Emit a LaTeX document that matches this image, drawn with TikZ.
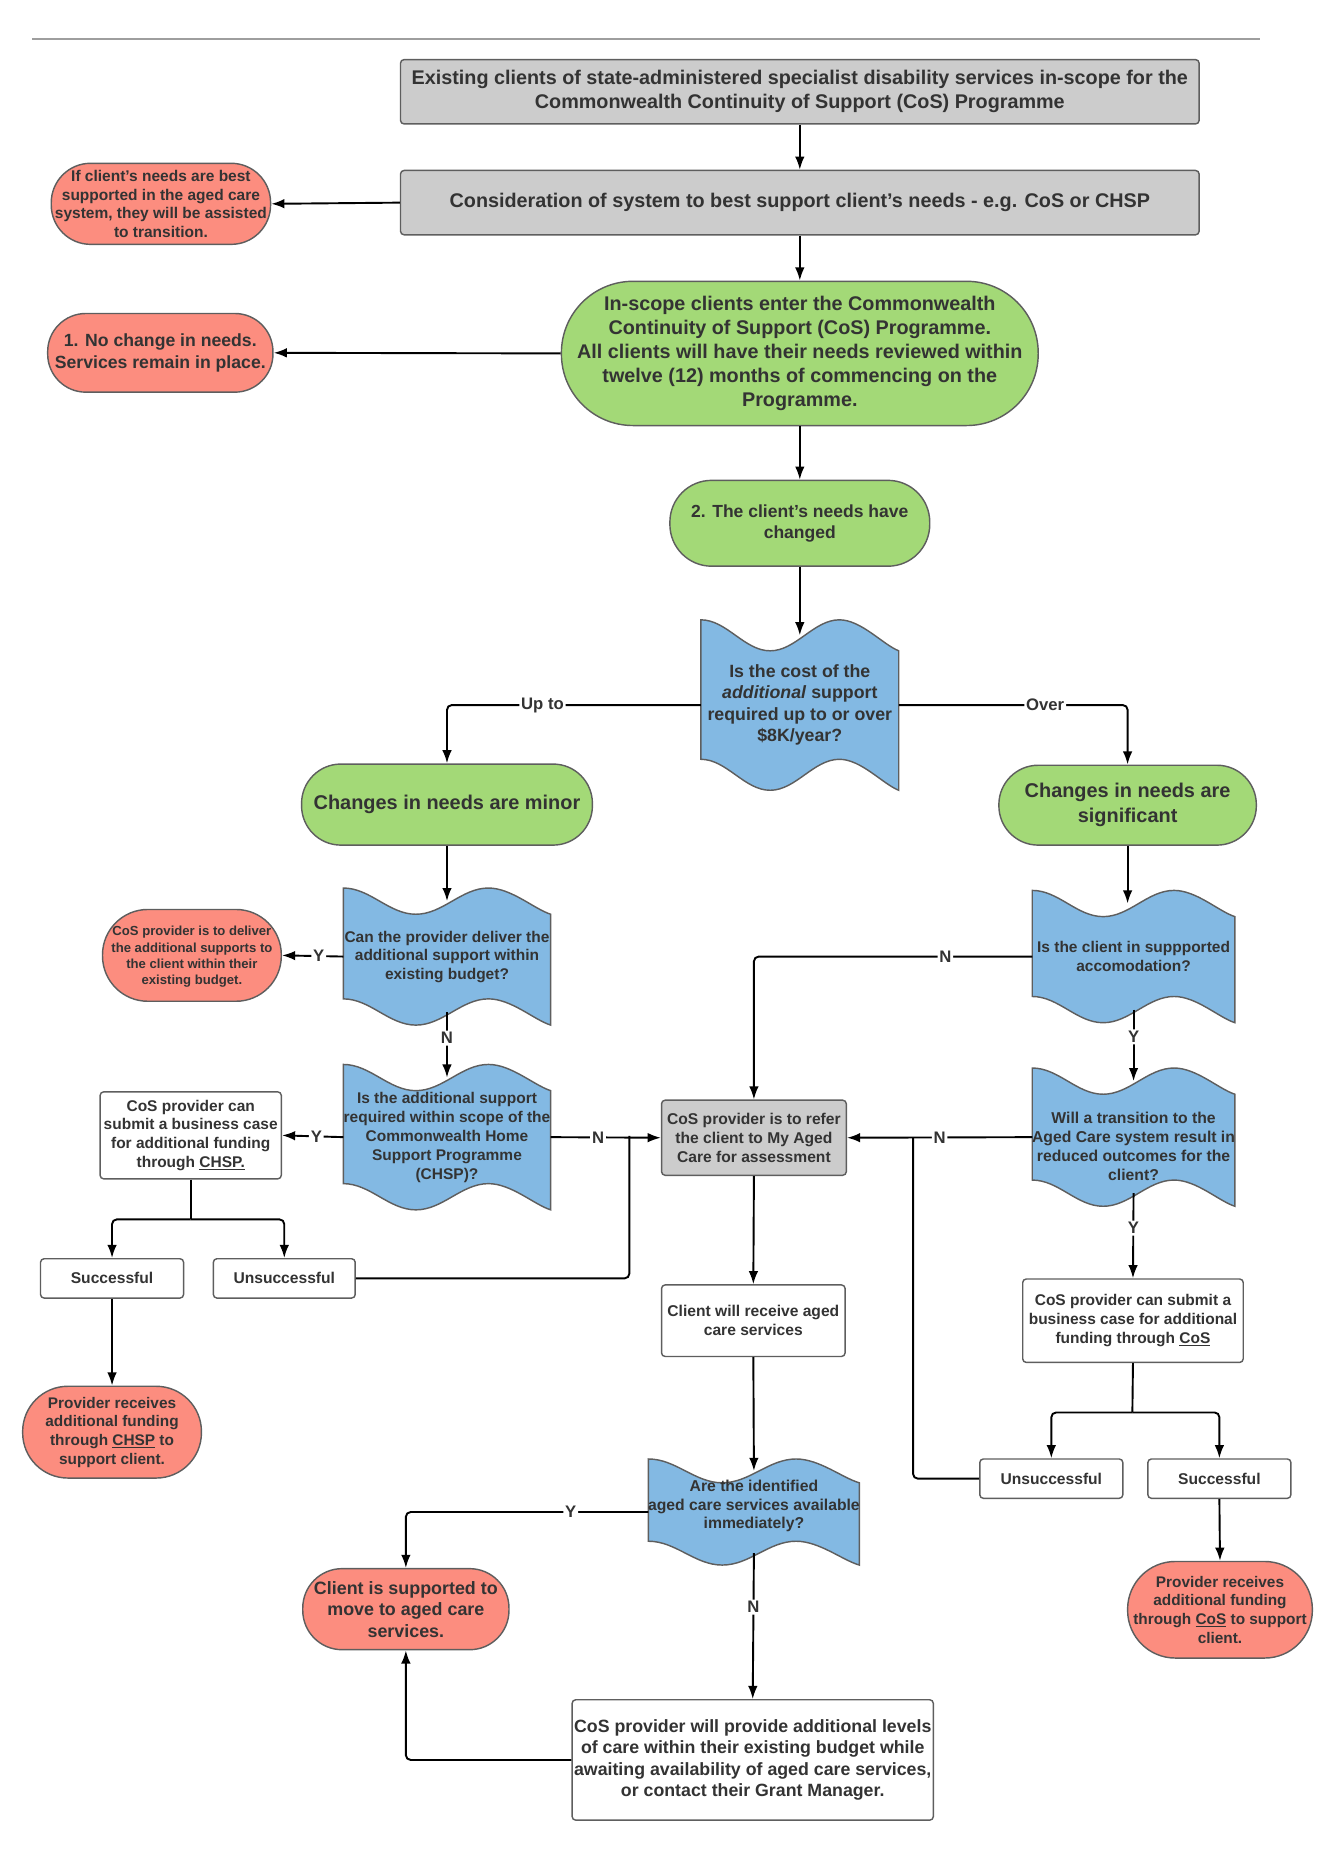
\documentclass[tikz,border=0pt]{standalone}
\usepackage{fontspec}
\setmainfont{Liberation Sans}
\usetikzlibrary{arrows.meta}
\definecolor{greyc}{HTML}{CCCCCC}
\definecolor{greenc}{HTML}{A3D977}
\definecolor{redc}{HTML}{FC8D7F}
\definecolor{bluec}{HTML}{83B9E3}
\definecolor{bordc}{HTML}{5E5E5E}
\definecolor{txtc}{HTML}{333333}
\definecolor{rulec}{HTML}{9E9E9E}
\newcommand{\fs}[2]{\fontsize{#1}{#2}\selectfont\bfseries}
% #1 L, #2 R, #3 T, #4 B, #5 wave depth, #6 name, #7 text node options, #8 text
\newcommand{\tapenode}[8]{%
  \filldraw[tapefill]
  (#1,#3) .. controls ({#1+0.13*(#2-#1)},#3) and ({#1+0.22*(#2-#1)},{#3+#5}) .. ({#1+0.35*(#2-#1)},{#3+#5})
  .. controls ({#1+0.48*(#2-#1)},{#3+#5}) and ({#1+0.57*(#2-#1)},#3) .. ({#1+0.70*(#2-#1)},#3)
  .. controls ({#1+0.81*(#2-#1)},#3) and ({#1+0.92*(#2-#1)},{#3+0.8*#5}) .. (#2,{#3+#5})
  -- (#2,#4)
  .. controls ({#1+0.92*(#2-#1)},{#4-0.2*#5}) and ({#1+0.81*(#2-#1)},{#4-#5}) .. ({#1+0.70*(#2-#1)},{#4-#5})
  .. controls ({#1+0.57*(#2-#1)},{#4-#5}) and ({#1+0.48*(#2-#1)},#4) .. ({#1+0.35*(#2-#1)},#4)
  .. controls ({#1+0.22*(#2-#1)},#4) and ({#1+0.13*(#2-#1)},{#4-#5}) .. (#1,{#4-#5})
  -- cycle;
  \coordinate (#6-n) at ({(#1+#2)/2},{#3+#5/2});
  \coordinate (#6-s) at ({(#1+#2)/2},{#4-#5/2});
  \coordinate (#6-w) at (#1,{(#3+#4)/2});
  \coordinate (#6-e) at (#2,{(#3+#4)/2});
  \node[tapetxt, #7] (#6) at ({(#1+#2)/2},{(#3+#4)/2}) {#8};
}
\tikzset{
  box/.style={draw=bordc, line width=1.2pt, text=txtc, align=center, inner sep=0pt},
  greybox/.style={box, fill=greyc, rounded corners=3pt},
  whitebox/.style={box, fill=white, rounded corners=3pt},
  redterm/.style={box, fill=redc},
  greenterm/.style={box, fill=greenc},
  tapefill/.style={draw=bordc, line width=1.2pt, fill=bluec},
  tapetxt/.style={text=txtc, align=center, inner sep=0pt},
  conn/.style={draw=black, line width=1.6pt, -{Latex[length=11pt,width=8pt]}, rounded corners=4pt},
  plainline/.style={draw=black, line width=1.6pt, rounded corners=4pt},
  lab/.style={fill=white, inner sep=1.5pt, text=txtc, font={\fs{14}{16}}},
}
\begin{document}
\begin{tikzpicture}[x=1pt,y=-1pt]
\useasboundingbox (0,0) rectangle (1110,1568);
\draw[rulec, line width=1.5pt] (27,33) -- (1057,33);

% top boxes
\node[greybox, minimum width=670pt, minimum height=54pt, font={\fs{16.6}{20}}] (title) at (671,77)
  {Existing clients of state-administered specialist disability services in-scope for the\\Commonwealth Continuity of Support (CoS) Programme};
\node[greybox, minimum width=670pt, minimum height=54pt, font={\fs{16.6}{20}}] (consid) at (671,170)
  {Consideration of system to best support client's needs - e.g. CoS or CHSP};
\node[redterm, rounded corners=33pt, minimum width=184pt, minimum height=68pt, font={\fs{13}{15.6}}] (red1) at (135,171)
  {If client's needs are best\\supported in the aged care\\system, they will be assisted\\to transition.};
\node[greenterm, rounded corners=60pt, minimum width=400pt, minimum height=121pt, font={\fs{16.6}{20}}] (green1) at (671,296.5)
  {In-scope clients enter the Commonwealth\\Continuity of Support (CoS) Programme.\\All clients will have their needs reviewed within\\twelve (12) months of commencing on the\\Programme.};
\node[redterm, rounded corners=32pt, minimum width=189pt, minimum height=66pt, font={\fs{14.8}{18}}] (red2) at (134.5,296)
  {1. No change in needs.\\Services remain in place.};
\node[greenterm, rounded corners=35pt, minimum width=218pt, minimum height=72pt, font={\fs{14.7}{18}}] (green2) at (671,439)
  {2. The client's needs have\\changed};

% first decision
\tapenode{588}{754}{520}{663}{26}{w1}{font={\fs{14.9}{18}}}{Is the cost of the\\\textit{additional} support\\required up to or over\\\$8K/year?}

\node[greenterm, rounded corners=33pt, minimum width=244pt, minimum height=68pt, font={\fs{16.7}{21}}] (minor) at (375,675)
  {Changes in needs are minor};
\node[greenterm, rounded corners=33pt, minimum width=216pt, minimum height=67pt, font={\fs{16.7}{21}}] (signif) at (946,675.5)
  {Changes in needs are\\significant};

% left column
\tapenode{288}{462}{745}{860}{22}{w2}{font={\fs{13}{15.5}}}{Can the provider deliver the\\additional support within\\existing budget?}
\node[redterm, rounded corners=38pt, minimum width=150pt, minimum height=77pt, font={\fs{11}{13.6}}, text depth=0pt] (red3) at (161,801.5)
  {\raisebox{0pt}{}CoS provider is to deliver\\the additional supports to\\the client within their\\existing budget.};
\tapenode{288}{462}{893}{1015}{22}{w3}{font={\fs{13}{16}}}{Is the additional support\\required within scope of the\\Commonwealth Home\\Support Programme\\(CHSP)?}
\node[whitebox, minimum width=152pt, minimum height=73pt, font={\fs{13}{15.7}}] (chsp) at (160,952.5)
  {CoS provider can\\submit a business case\\for additional funding\\through \underline{CHSP.}};
\node[whitebox, minimum width=120pt, minimum height=33pt, font={\fs{13.1}{15}}] (succL) at (94,1072.5) {Successful};
\node[whitebox, minimum width=119pt, minimum height=33pt, font={\fs{13.1}{15}}] (unsL) at (238.5,1072.5) {Unsuccessful};
\node[redterm, rounded corners=38pt, minimum width=150pt, minimum height=77pt, font={\fs{12.9}{15.7}}] (red4) at (94,1201.5)
  {Provider receives\\additional funding\\through \underline{CHSP} to\\support client.};

% middle column
\node[greybox, minimum width=155pt, minimum height=63pt, font={\fs{13.1}{16}}] (refer) at (632.5,954.5)
  {CoS provider is to refer\\the client to My Aged\\Care for assessment};
\node[whitebox, minimum width=154pt, minimum height=60pt, font={\fs{13.1}{16}}] (client) at (632,1108)
  {Client will receive aged\\care services};
\tapenode{544}{721}{1224}{1313}{20}{w6}{font={\fs{13.2}{15.5}}, yshift=5pt}{Are the identified\\aged care services available\\immediately?}
\node[redterm, rounded corners=33pt, minimum width=173pt, minimum height=68pt, font={\fs{15}{18}}] (red6) at (340.5,1350)
  {Client is supported to\\move to aged care\\services.};
\node[whitebox, minimum width=303pt, minimum height=101pt, font={\fs{14.9}{18}}] (big) at (631.5,1476.5)
  {CoS provider will provide additional levels\\of care within their existing budget while\\awaiting availability of aged care services,\\or contact their Grant Manager.};

% right column
\tapenode{866}{1036}{747}{858}{22}{w4}{font={\fs{13}{15.5}}}{Is the client in suppported\\accomodation?}
\tapenode{866}{1036}{896}{1012}{22}{w5}{font={\fs{13.2}{16}}, yshift=-8pt}{Will a transition to the\\Aged Care system result in\\reduced outcomes for the\\client?}
\node[whitebox, minimum width=185pt, minimum height=70pt, font={\fs{13}{15.7}}] (cosR) at (950.5,1108)
  {CoS provider can submit a\\business case for additional\\funding through \underline{CoS}};
\node[whitebox, minimum width=120pt, minimum height=33pt, font={\fs{13.1}{15}}] (unsR) at (882,1240.5) {Unsuccessful};
\node[whitebox, minimum width=120pt, minimum height=33pt, font={\fs{13.1}{15}}] (succR) at (1023,1240.5) {Successful};
\node[redterm, rounded corners=40pt, minimum width=155pt, minimum height=81pt, font={\fs{12.9}{15.7}}] (red5) at (1023.5,1350.5)
  {Provider receives\\additional funding\\through \underline{CoS} to support\\client.};

% junction coordinates
\coordinate (bL) at (160,1023);
\coordinate (bR) at (950,1185);
\coordinate (jL) at (528,953);
\coordinate (jR) at (766,954);

% connectors
\draw[conn] (title.south) -- (consid.north);
\draw[conn] (consid.west) -- (red1.east);
\draw[conn] (consid.south) -- (green1.north);
\draw[conn] (green1.west) -- (red2.east);
\draw[conn] (green1.south) -- (green2.north);
\draw[conn] (green2.south) -- (w1-n);
\draw[conn] (w1-w) -| node[lab, pos=0.312]{Up to} (minor.north);
\draw[conn] (w1-e) -| node[lab, pos=0.32]{Over} (signif.north);
\draw[conn] (minor.south) -- (w2-n);
\draw[conn] (w2-w) -- node[lab, pos=0.4]{Y} (red3.east);
\draw[conn] (w2-s) -- node[lab, pos=0.4]{N} (w3-n);
\draw[conn] (w3-w) -- node[lab, pos=0.44]{Y} (chsp.east);
\draw[conn] (w3-e) -- node[lab, pos=0.43]{N} (refer.west);
\draw[plainline] (chsp.south) -- (bL);
\draw[conn] (bL) -| (succL.north);
\draw[conn] (bL) -| (unsL.north);
\draw[plainline] (unsL.east) -| (jL);
\draw[conn] (succL.south) -- (red4.north);
\draw[conn] (signif.south) -- (signif.south |- w4-n);
\draw[conn] (w4-w) -| node[lab, pos=0.156]{N} (refer.north);
\draw[conn] (w4-s) -- node[lab, pos=0.38]{Y} (w5-n);
\draw[conn] (w5-w) -- node[lab, pos=0.5]{N} (refer.east);
\draw[conn] (w5-s) -- node[lab, pos=0.41]{Y} (cosR.north);
\draw[plainline] (cosR.south) -- (bR);
\draw[conn] (bR) -| (unsR.north);
\draw[conn] (bR) -| (succR.north);
\draw[plainline] (unsR.west) -| (jR);
\draw[conn] (succR.south) -- (red5.north);
\draw[conn] (refer.south) -- (client.north);
\draw[conn] (client.south) -- (w6-n);
\draw[conn] (w6-w) -| node[lab, pos=0.16]{Y} (red6.north);
\draw[conn] (w6-s) -- node[lab, pos=0.37]{N} (big.north);
\draw[conn] (big.west) -| (red6.south);
\end{tikzpicture}
\end{document}
